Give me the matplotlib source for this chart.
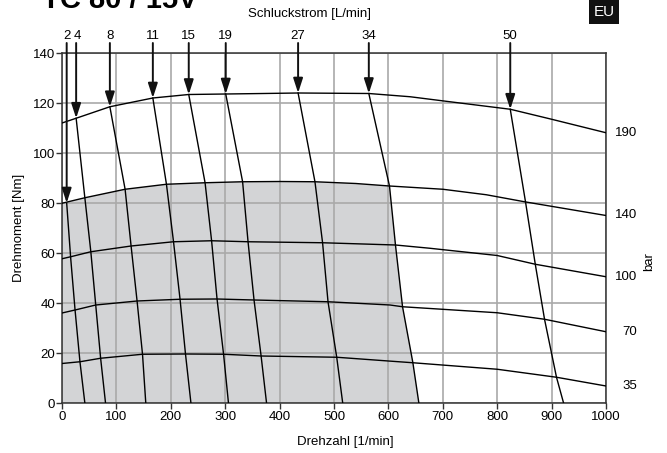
import matplotlib.pyplot as plt

plt.rcParams['font.family'] = ['Liberation Sans', 'DejaVu Sans']
plt.rcParams['font.size'] = 9

# Druckkurven (Drehzahl [1/min], Drehmoment [Nm])
p190_speed = [0, 26, 88, 167, 233, 301, 370, 434, 500, 564, 640, 713, 824, 900, 1000]
p190_torque = [112, 113.9, 118.5, 122, 123.4, 123.6, 123.8, 124, 123.9, 123.8, 122.5, 120.5, 117.5, 113.5, 108.1]
p140_speed = [0, 42, 116, 192, 263, 332, 400, 465, 540, 602, 700, 780, 850, 1000]
p140_torque = [79.9, 82.1, 85.5, 87.5, 88.1, 88.5, 88.6, 88.5, 87.8, 86.8, 85.5, 83.3, 80.5, 75]
p100_speed = [0, 16, 53, 127, 205, 275, 342, 479, 613, 676, 800, 870, 1000]
p100_torque = [57.7, 58.5, 60.5, 62.8, 64.5, 64.9, 64.5, 64.1, 63.2, 61.9, 59, 55.5, 50.5]
p70_speed = [0, 24, 62, 138, 217, 285, 353, 489, 603, 626, 800, 887, 1000]
p70_torque = [36, 37.2, 39.2, 40.8, 41.5, 41.6, 41.2, 40.5, 39.2, 38.5, 36.1, 33.5, 28.5]
p35_speed = [0, 33, 71, 148, 227, 297, 366, 505, 600, 645, 800, 909, 1000]
p35_torque = [15.8, 16.5, 17.9, 19.5, 19.6, 19.5, 18.8, 18.3, 16.8, 16.1, 13.5, 10.3, 6.8]
pressure_labels = ['190', '140', '100', '70', '35']

# Schluckstrom-Linien [L/min]
flow_labels = ['2', '4', '8', '11', '15', '19', '27', '34', '50']
flow_speed = [
    [8.6, 16, 24, 33, 42],
    [26, 42, 53, 62, 71, 80],
    [88, 116, 127, 138, 148, 154],
    [167, 192, 205, 217, 227, 237],
    [233, 263, 275, 285, 297, 306],
    [301, 332, 342, 353, 366, 376],
    [434, 465, 479, 489, 505, 516],
    [564, 602, 613, 626, 645, 656],
    [824, 852, 870, 887, 909, 922],
]
flow_torque = [
    [80, 57.9, 37.2, 16.5, 0],
    [113.9, 82.1, 60.5, 39.2, 17.9, 0],
    [118.5, 85.5, 62.8, 40.8, 19.5, 0],
    [122, 87.5, 64.5, 41.5, 19.6, 0],
    [123.4, 88.1, 64.9, 41.6, 19.5, 0],
    [123.6, 88.5, 64.5, 41.2, 18.8, 0],
    [124, 88.5, 64.1, 40.5, 18.3, 0],
    [123.8, 86.8, 63.2, 38.5, 16.1, 0],
    [117.5, 80.5, 55.5, 33.5, 10.3, 0],
]

fig = plt.figure(figsize=(6.67, 4.53), dpi=100)
ax = fig.add_axes([62 / 667, 50 / 453, 544 / 667, 350 / 453])

# Dauerbetriebsbereich (grau)
n_shade = p140_speed.index(602) + 1
shade_x = p140_speed[:n_shade] + flow_speed[7][1:] + [0]
shade_y = p140_torque[:n_shade] + flow_torque[7][1:] + [0]
ax.fill(shade_x, shade_y, color='#d3d4d6', lw=0, zorder=1)

curves = [(p190_speed, p190_torque), (p140_speed, p140_torque), (p100_speed, p100_torque),
          (p70_speed, p70_torque), (p35_speed, p35_torque)]
for (s, t), lab in zip(curves, pressure_labels):
    ax.plot(s, t, color='black', lw=1, zorder=3)
    ax.text(1057, t[-1], lab, ha='right', va='center', fontsize=9.5, clip_on=False)

for s, t, lab in zip(flow_speed, flow_torque, flow_labels):
    ax.plot(s, t, color='black', lw=1, zorder=3)
    ax.annotate('', xy=(s[0], t[0]), xytext=(s[0], 144), annotation_clip=False,
                arrowprops=dict(arrowstyle='-|>,head_length=0.8,head_width=0.26', color='#111111',
                                lw=1.4, mutation_scale=11, shrinkA=0, shrinkB=0), zorder=4)
    ax.text(s[0] + (3 if lab == '4' else 0), 144.5, lab, ha='center', va='bottom', fontsize=9.5)

ax.set_xlim(0, 1000)
ax.set_ylim(0, 140)
ax.set_xticks(range(0, 1001, 100))
ax.set_yticks(range(0, 141, 20))
ax.grid(True, color='#a9a9a9', lw=1.2)
ax.tick_params(direction='out', length=4, width=1, color='#333333', labelsize=9.5, pad=1.5)
ax.tick_params(axis='y', pad=1)
for sp in ax.spines.values():
    sp.set_color('#333333')
    sp.set_linewidth(1.1)

ax.set_xlabel('Drehzahl [1/min]', fontsize=9.5)
ax.xaxis.set_label_coords((345 - 62) / 544, -0.095)
ax.set_ylabel('Drehmoment [Nm]', fontsize=9.5)
ax.yaxis.set_label_coords(-0.068, 0.5)
ax.text(1080, 56.5, 'bar', rotation=90, ha='center', va='center', fontsize=9.5, clip_on=False)

fig.text(310 / 667, 1 - 14 / 453, 'Schluckstrom [L/min]', ha='center', va='center', fontsize=9.5)
fig.text(604 / 667, 1 - 12 / 453, 'EU', ha='center', va='center', fontsize=11, color='white',
         bbox=dict(boxstyle='square,pad=0.3', fc='#111111', ec='none'))
fig.text(42 / 667, 1 - 8 / 453, 'TC 80 / 15V', ha='left', va='baseline', fontsize=21,
         fontweight='bold')

fig.savefig('out.png', dpi=100)
